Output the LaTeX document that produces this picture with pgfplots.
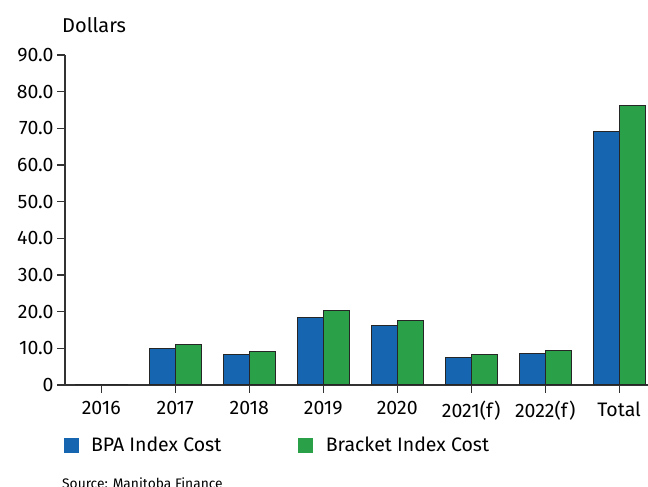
\documentclass[border=0pt]{standalone}
\usepackage{fontspec}
\setmainfont{Fira Sans}
\usepackage{pgfplots}
\pgfplotsset{compat=1.18}
\definecolor{bpablue}{HTML}{1565B0}
\definecolor{brgreen}{HTML}{2AA048}
\definecolor{axisgray}{HTML}{333333}

\begin{document}
\begin{tikzpicture}[x=1bp,y=1bp]
\useasboundingbox (0,0) rectangle (648,487);
\begin{axis}[
  at={(65bp,102bp)}, anchor=south west,
  scale only axis, width=583bp, height=330bp,
  xmin=-0.49, xmax=7.39, ymin=0, ymax=90,
  ybar=0pt, bar width=26bp,
  axis x line*=bottom, axis y line*=left,
  axis line style={axisgray, line width=1.4bp},
  tick style={axisgray, line width=1.2bp},
  tick align=outside, major tick length=8bp,
  xtick={0,...,7},
  xticklabels={2016,2017,2018,2019,2020,2021(f),2022(f),Total},
  xticklabel style={yshift=-5bp},
  ytick={0,10,...,90},
  yticklabels={0,10.0,20.0,30.0,40.0,50.0,60.0,70.0,80.0,90.0},
  /pgf/number format/assume math mode=true,
  tick label style={font=\fontsize{19.5bp}{22bp}\selectfont},
  every axis plot/.append style={draw=black!85, line width=1bp},
  legend columns=2,
  legend image code/.code={\fill[#1,draw=none] (0bp,-7.5bp) rectangle (15bp,7.5bp); \path (25bp,0bp);},
  legend style={at={(rel axis cs:-0.008,-0.182)}, anchor=west, draw=none, fill=none,
    font=\fontsize{19.5bp}{22bp}\selectfont,
    /tikz/every even column/.append style={column sep=75bp}},
]
\addplot[fill=bpablue] coordinates {
  (0,0.1) (1,10.0) (2,8.2) (3,18.4) (4,16.2) (5,7.5) (6,8.5) (7,69.1)
};
\addlegendentry{BPA Index Cost}
\addplot[fill=brgreen] coordinates {
  (0,0.1) (1,11.0) (2,9.1) (3,20.2) (4,17.7) (5,8.3) (6,9.4) (7,76.3)
};
\addlegendentry{Bracket Index Cost}
\end{axis}
\node[anchor=base west, inner sep=0pt, font=\fontsize{20bp}{23bp}\selectfont] at (62,454) {Dollars};
\node[anchor=base west, inner sep=0pt, font=\fontsize{13.8bp}{16bp}\selectfont] at (62,-2) {Source: Manitoba Finance};
\end{tikzpicture}
\end{document}
